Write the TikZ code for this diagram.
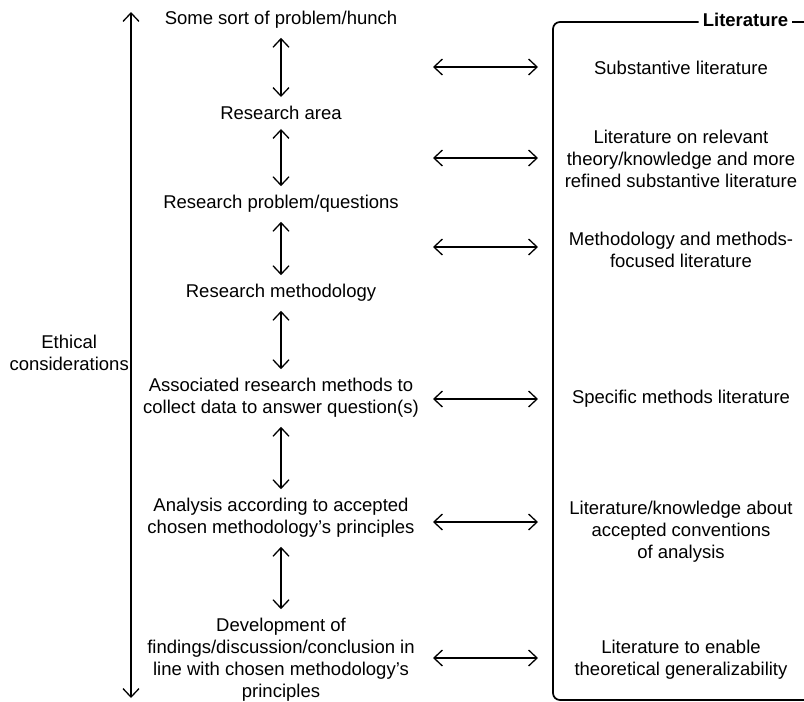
\documentclass[tikz,border=0pt]{standalone}
\usepackage{fontspec}
\setmainfont{Liberation Sans}
\usetikzlibrary{arrows.meta}

\begin{document}
\begin{tikzpicture}[x=1pt, y=-1pt,
    texto/.style={align=center, inner sep=0pt, font=\fontsize{18.5}{22}\selectfont},
    doble/.style={{Straight Barb[length=8.5pt,width=16pt]}-{Straight Barb[length=8.5pt,width=16pt]}, line width=1.3pt},
    marco/.style={line width=1.7pt}]
    \useasboundingbox (0,0) rectangle (804,702);

    % Etapas de la investigacion
    \node[texto] (p1) at (281,20) {Some sort of problem/hunch};
    \node[texto] (p2) at (281,113) {Research area};
    \node[texto] (p3) at (281,204) {Research problem/questions};
    \node[texto] (p4) at (281,293) {Research methodology};
    \node[texto] (p5) at (281,398) {Associated research methods to\\collect data to answer question(s)};
    \node[texto] (p6) at (281,518) {Analysis according to accepted\\chosen methodology's principles};
    \node[texto] (p7) at (281,660) {Development of\\findings/discussion/conclusion in\\line with chosen methodology's\\principles};

    % Flechas entre etapas
    \foreach \a/\b in {p1/p2,p2/p3,p3/p4,p4/p5,p5/p6,p6/p7}
        \draw[doble, shorten <=9pt, shorten >=9pt] (\a) -- (\b);

    % Consideraciones eticas
    \coordinate (etA) at (131,12);
    \coordinate (etB) at (131,698);
    \draw[doble] (etA) -- (etB);
    \node[texto, anchor=east] (etica) at (129,353) {Ethical\\considerations};

    % Marco de la literatura
    \coordinate (esq) at (553,22);
    \node[texto, font=\fontsize{18.5}{22}\selectfont\bfseries, inner sep=4pt] (titulo) at (745.5,20) {Literature};
    \draw[marco, rounded corners=7pt] (titulo.west |- esq) -- (esq) -- (553,700) -- (804,700);
    \draw[marco] (titulo.east |- esq) -- (804,22);

    % Literatura
    \node[texto] (r1) at (681,68) {Substantive literature};
    \node[texto] (r2) at (681,159) {Literature on relevant\\theory/knowledge and more\\refined substantive literature};
    \node[texto] (r3) at (681,250) {Methodology and methods-\\focused literature};
    \node[texto] (r4) at (681,399) {Specific methods literature};
    \node[texto] (r5) at (681,532) {Literature/knowledge about\\accepted conventions\\of analysis};
    \node[texto] (r6) at (681,660) {Literature to enable\\theoretical generalizability};

    % Flechas horizontales
    \foreach \y [count=\i] in {67,158,247,399,522,658}
        \coordinate (h\i) at (433,\y);
    \foreach \i in {1,...,6}
        \draw[doble, shorten >=15pt] (h\i) -- (h\i -| esq);
\end{tikzpicture}
\end{document}
